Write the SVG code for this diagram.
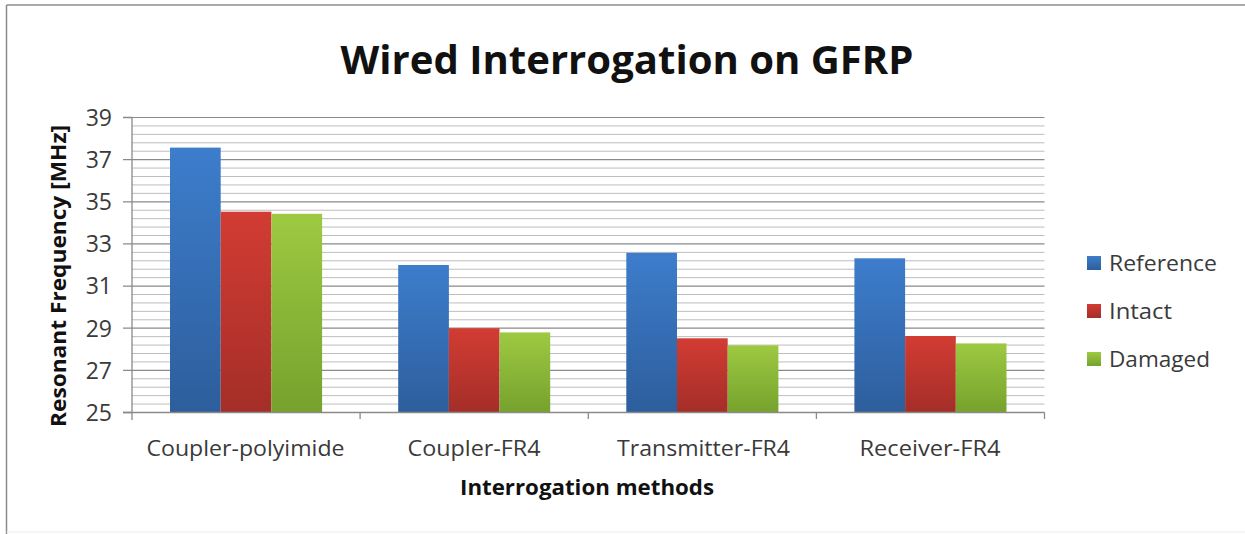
<svg xmlns="http://www.w3.org/2000/svg" width="1245" height="534" viewBox="0 0 1245 534">
  <defs>
    <linearGradient id="gBlue" x1="0" y1="0" x2="0" y2="1">
      <stop offset="0" stop-color="#3d7dcc"/>
      <stop offset="1" stop-color="#2d5e9c"/>
    </linearGradient>
    <linearGradient id="gRed" x1="0" y1="0" x2="0" y2="1">
      <stop offset="0" stop-color="#d23c33"/>
      <stop offset="1" stop-color="#a42e28"/>
    </linearGradient>
    <linearGradient id="gGreen" x1="0" y1="0" x2="0" y2="1">
      <stop offset="0" stop-color="#9dc942"/>
      <stop offset="1" stop-color="#76a22d"/>
    </linearGradient>
  </defs>
  <style>
    .minor { stroke: #bdbdbd; stroke-width: 1; }
    .major { stroke: #8a8a8a; stroke-width: 1.2; }
    .axis { stroke: #8a8a8a; stroke-width: 1.3; fill: none; }
    .tick { font-family: "Open Sans", "Noto Sans", sans-serif; font-size: 23px; fill: #3a3a3a; text-anchor: end; }
    .cat { font-family: "Open Sans", "Noto Sans", sans-serif; font-size: 22px; fill: #3a3a3a; text-anchor: middle; }
    .leg { font-family: "Open Sans", "Noto Sans", sans-serif; font-size: 22px; fill: #3a3a3a; }
    .bold { font-family: "Open Sans", "Noto Sans", sans-serif; font-weight: bold; fill: #111; }
    .blue { fill: url(#gBlue); }
    .red { fill: url(#gRed); }
    .green { fill: url(#gGreen); }
  </style>
  <rect x="0" y="0" width="1245" height="534" fill="#ffffff"/>
  <g id="frame">
    <line x1="6.5" y1="5" x2="1245" y2="5" stroke="#8c8c8c" stroke-width="1.5"/>
    <line x1="6.5" y1="5" x2="6.5" y2="534" stroke="#8c8c8c" stroke-width="1.5"/>
    <line x1="6.5" y1="532" x2="1245" y2="532" stroke="#ececec" stroke-width="1"/>
  </g>
  <g id="title">
    <text class="bold" x="627" y="74" font-size="40" text-anchor="middle" textLength="573" lengthAdjust="spacingAndGlyphs">Wired Interrogation on GFRP</text>
  </g>
  <g id="gridlines">
    <line class="minor" x1="132" y1="404.07" x2="1044.5" y2="404.07"/>
    <line class="minor" x1="132" y1="395.64" x2="1044.5" y2="395.64"/>
    <line class="minor" x1="132" y1="387.21" x2="1044.5" y2="387.21"/>
    <line class="minor" x1="132" y1="378.79" x2="1044.5" y2="378.79"/>
    <line class="major" x1="132" y1="370.36" x2="1044.5" y2="370.36"/>
    <line class="minor" x1="132" y1="361.93" x2="1044.5" y2="361.93"/>
    <line class="minor" x1="132" y1="353.50" x2="1044.5" y2="353.50"/>
    <line class="minor" x1="132" y1="345.07" x2="1044.5" y2="345.07"/>
    <line class="minor" x1="132" y1="336.64" x2="1044.5" y2="336.64"/>
    <line class="major" x1="132" y1="328.21" x2="1044.5" y2="328.21"/>
    <line class="minor" x1="132" y1="319.79" x2="1044.5" y2="319.79"/>
    <line class="minor" x1="132" y1="311.36" x2="1044.5" y2="311.36"/>
    <line class="minor" x1="132" y1="302.93" x2="1044.5" y2="302.93"/>
    <line class="minor" x1="132" y1="294.50" x2="1044.5" y2="294.50"/>
    <line class="major" x1="132" y1="286.07" x2="1044.5" y2="286.07"/>
    <line class="minor" x1="132" y1="277.64" x2="1044.5" y2="277.64"/>
    <line class="minor" x1="132" y1="269.21" x2="1044.5" y2="269.21"/>
    <line class="minor" x1="132" y1="260.79" x2="1044.5" y2="260.79"/>
    <line class="minor" x1="132" y1="252.36" x2="1044.5" y2="252.36"/>
    <line class="major" x1="132" y1="243.93" x2="1044.5" y2="243.93"/>
    <line class="minor" x1="132" y1="235.50" x2="1044.5" y2="235.50"/>
    <line class="minor" x1="132" y1="227.07" x2="1044.5" y2="227.07"/>
    <line class="minor" x1="132" y1="218.64" x2="1044.5" y2="218.64"/>
    <line class="minor" x1="132" y1="210.21" x2="1044.5" y2="210.21"/>
    <line class="major" x1="132" y1="201.79" x2="1044.5" y2="201.79"/>
    <line class="minor" x1="132" y1="193.36" x2="1044.5" y2="193.36"/>
    <line class="minor" x1="132" y1="184.93" x2="1044.5" y2="184.93"/>
    <line class="minor" x1="132" y1="176.50" x2="1044.5" y2="176.50"/>
    <line class="minor" x1="132" y1="168.07" x2="1044.5" y2="168.07"/>
    <line class="major" x1="132" y1="159.64" x2="1044.5" y2="159.64"/>
    <line class="minor" x1="132" y1="151.21" x2="1044.5" y2="151.21"/>
    <line class="minor" x1="132" y1="142.79" x2="1044.5" y2="142.79"/>
    <line class="minor" x1="132" y1="134.36" x2="1044.5" y2="134.36"/>
    <line class="minor" x1="132" y1="125.93" x2="1044.5" y2="125.93"/>
    <line class="major" x1="132" y1="117.50" x2="1044.5" y2="117.50"/>
  </g>
  <g id="series-reference">
    <rect class="blue" x="170.0" y="147.6" width="50.7" height="264.9"/>
    <rect class="blue" x="398.2" y="265.0" width="50.7" height="147.5"/>
    <rect class="blue" x="626.3" y="252.8" width="50.7" height="159.7"/>
    <rect class="blue" x="854.4" y="258.3" width="50.7" height="154.2"/>
  </g>
  <g id="series-intact">
    <rect class="red" x="220.7" y="211.7" width="50.7" height="200.8"/>
    <rect class="red" x="448.8" y="328.2" width="50.7" height="84.3"/>
    <rect class="red" x="677.0" y="338.3" width="50.7" height="74.2"/>
    <rect class="red" x="905.1" y="336.0" width="50.7" height="76.5"/>
  </g>
  <g id="series-damaged">
    <rect class="green" x="271.4" y="213.8" width="50.7" height="198.7"/>
    <rect class="green" x="499.5" y="332.4" width="50.7" height="80.1"/>
    <rect class="green" x="727.7" y="345.3" width="50.7" height="67.2"/>
    <rect class="green" x="955.8" y="343.4" width="50.7" height="69.1"/>
  </g>
  <g id="y-axis">
    <line class="axis" x1="132" y1="117.5" x2="132" y2="420"/>
    <path class="axis" d="M123 117.5H132M123 159.64H132M123 201.79H132M123 243.93H132M123 286.07H132M123 328.21H132M123 370.36H132M123 412.5H132"/>
    <text class="tick" x="112" y="125.8">39</text>
    <text class="tick" x="112" y="167.9">37</text>
    <text class="tick" x="112" y="210.1">35</text>
    <text class="tick" x="112" y="252.2">33</text>
    <text class="tick" x="112" y="294.4">31</text>
    <text class="tick" x="112" y="336.5">29</text>
    <text class="tick" x="112" y="378.7">27</text>
    <text class="tick" x="112" y="420.8">25</text>
    <text class="bold" font-size="21" text-anchor="middle" transform="translate(66 276) rotate(-90)" textLength="302" lengthAdjust="spacingAndGlyphs">Resonant Frequency [MHz]</text>
  </g>
  <g id="x-axis">
    <line class="axis" x1="123" y1="412.5" x2="1044.5" y2="412.5"/>
    <path class="axis" d="M360.1 412.5V419M588.3 412.5V419M816.4 412.5V419M1044.5 412.5V419"/>
    <text class="cat" x="245.5" y="456" textLength="198" lengthAdjust="spacingAndGlyphs">Coupler-polyimide</text>
    <text class="cat" x="474" y="456" textLength="133" lengthAdjust="spacingAndGlyphs">Coupler-FR4</text>
    <text class="cat" x="703.5" y="456" textLength="173" lengthAdjust="spacingAndGlyphs">Transmitter-FR4</text>
    <text class="cat" x="930" y="456" textLength="141" lengthAdjust="spacingAndGlyphs">Receiver-FR4</text>
    <text class="bold" x="587" y="495" font-size="21" text-anchor="middle" textLength="254" lengthAdjust="spacingAndGlyphs">Interrogation methods</text>
  </g>
  <g id="legend">
    <rect class="blue" x="1087" y="256" width="14" height="14"/>
    <text class="leg" x="1109" y="271" textLength="108" lengthAdjust="spacingAndGlyphs">Reference</text>
    <rect class="red" x="1087" y="304" width="14" height="14"/>
    <text class="leg" x="1109" y="319" textLength="63" lengthAdjust="spacingAndGlyphs">Intact</text>
    <rect class="green" x="1087" y="352" width="14" height="14"/>
    <text class="leg" x="1109" y="367" textLength="101" lengthAdjust="spacingAndGlyphs">Damaged</text>
  </g>
</svg>
